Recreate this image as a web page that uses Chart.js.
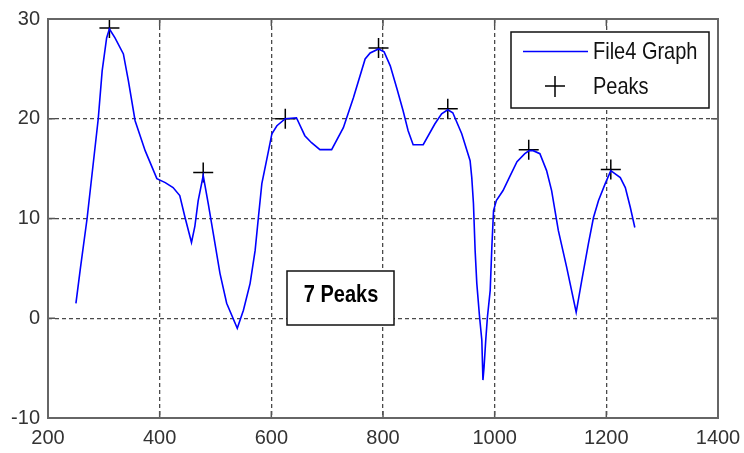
<!DOCTYPE html>
<html>
<head>
<meta charset="utf-8">
<script src="https://cdn.jsdelivr.net/npm/chart.js@4/dist/chart.umd.min.js"></script>
<style>
  html, body { margin: 0; padding: 0; background: #fff; }
  #wrap { width: 744px; height: 453px; }
</style>
</head>
<body>
<div id="wrap"><canvas id="peaksChart"></canvas></div>
<script>
// signal samples
const xValues = [250, 258, 270, 290, 297, 305, 310, 320, 335, 344, 356, 374, 395, 410, 424, 436, 445, 457,
  463, 469, 478, 487, 496, 508, 520, 539, 550, 562, 571, 577, 583, 595, 601, 610, 625, 645, 660, 672, 687,
  708, 729, 747, 768, 777, 792, 802, 813, 825, 836, 845, 854, 872, 893, 905, 916, 925, 941, 956, 959, 962,
  965, 968, 973, 977, 979, 981, 984, 987, 992, 995, 998, 1003, 1015, 1027, 1040, 1054, 1062, 1069, 1081,
  1093, 1102, 1114, 1129, 1146, 1156, 1168, 1177, 1186, 1198, 1208, 1225, 1234, 1243, 1251];
const yValues = [1.5, 5, 10, 20, 24.8, 28.1, 29.0, 28.1, 26.5, 23.8, 19.8, 16.8, 14.0, 13.6, 13.1, 12.3, 10.2, 7.6,
  9.2, 11.8, 14.3, 11.5, 8.5, 4.5, 1.5, -1.0, 0.8, 3.5, 6.8, 10.2, 13.5, 16.8, 18.5, 19.3, 20.0, 20.1, 18.3, 17.6, 16.9,
  16.9, 19.1, 22.1, 26.0, 26.6, 27.0, 26.7, 25.3, 23.0, 20.8, 18.8, 17.4, 17.4, 19.5, 20.5, 20.9, 20.6, 18.5, 15.8, 14.1, 11.5,
  6.8, 3.5, 0.1, -2.2, -6.2, -4.9, -2.2, 0.1, 2.8, 7.2, 10.8, 11.8, 12.8, 14.2, 15.7, 16.5, 16.8, 16.8, 16.5,
  14.8, 12.8, 8.8, 5.1, 0.6, 3.8, 7.5, 10.1, 11.8, 13.5, 14.8, 14.1, 13.1, 11.1, 9.1];

// detected peaks
const peakX = [310, 478, 625, 792, 916, 1061, 1208];
const peakY = [29.1, 14.6, 20.0, 27.1, 21.0, 16.9, 14.9];

const xTicks = [200, 400, 600, 800, 1000, 1200, 1400];
const yTicks = [-10, 0, 10, 20, 30];
const seriesNames = ['File4 Graph', 'Peaks'];

const fontFamily = '"Liberation Sans", Arial, sans-serif';
const tickFont = { family: fontFamily, size: 20 };

// draw text a little taller than wide, like the original
function tallText(ctx, text, x, y, font, align) {
  ctx.save();
  ctx.font = font;
  ctx.textAlign = align;
  ctx.textBaseline = 'middle';
  ctx.translate(x, y);
  ctx.scale(1, 1.2);
  ctx.fillText(text, 0, 0);
  ctx.restore();
}

// frame, inner tick marks, legend box and the peak count label
const decorations = {
  id: 'decorations',
  afterDraw(chart) {
    const ctx = chart.ctx;
    const a = chart.chartArea;
    const xs = chart.scales.x, ys = chart.scales.y;
    ctx.save();
    // inner ticks
    ctx.strokeStyle = '#555';
    ctx.lineWidth = 1.5;
    ctx.setLineDash([]);
    ctx.beginPath();
    xTicks.forEach(v => {
      const px = xs.getPixelForValue(v);
      ctx.moveTo(px, a.bottom); ctx.lineTo(px, a.bottom - 7);
      ctx.moveTo(px, a.top); ctx.lineTo(px, a.top + 7);
    });
    yTicks.forEach(v => {
      const py = ys.getPixelForValue(v);
      ctx.moveTo(a.left, py); ctx.lineTo(a.left + 7, py);
      ctx.moveTo(a.right, py); ctx.lineTo(a.right - 7, py);
    });
    ctx.stroke();
    // frame
    ctx.strokeStyle = '#666';
    ctx.lineWidth = 2;
    ctx.strokeRect(a.left, a.top, a.right - a.left, a.bottom - a.top);

    // legend
    const lx = 511, ly = 32, lw = 198, lh = 76;
    ctx.fillStyle = '#fff';
    ctx.fillRect(lx, ly, lw, lh);
    ctx.strokeStyle = '#111';
    ctx.lineWidth = 1.5;
    ctx.strokeRect(lx, ly, lw, lh);
    ctx.strokeStyle = '#0000ff';
    ctx.lineWidth = 1.5;
    ctx.beginPath();
    ctx.moveTo(523, 51.5); ctx.lineTo(588, 51.5);
    ctx.stroke();
    ctx.strokeStyle = '#000';
    ctx.beginPath();
    ctx.moveTo(545, 86); ctx.lineTo(565, 86);
    ctx.moveTo(555, 76); ctx.lineTo(555, 97);
    ctx.stroke();
    ctx.fillStyle = '#111';
    tallText(ctx, seriesNames[0], 593, 52, '20px ' + fontFamily, 'left');
    tallText(ctx, seriesNames[1], 593, 87, '20px ' + fontFamily, 'left');

    // annotation
    ctx.fillStyle = '#fff';
    ctx.fillRect(287, 271, 107, 54);
    ctx.strokeStyle = '#111';
    ctx.lineWidth = 1.5;
    ctx.strokeRect(287, 271, 107, 54);
    ctx.fillStyle = '#000';
    tallText(ctx, peakX.length + ' Peaks', 341, 295, 'bold 20px ' + fontFamily, 'center');
    ctx.restore();
  }
};

function edgeHidden(edges) {
  return c => edges.includes(c.tick && c.tick.value) ? 'rgba(0,0,0,0)' : '#4a4a4a';
}

const ctx = document.getElementById('peaksChart').getContext('2d');
const peaksChart = new Chart(ctx, {
  type: 'line',
  data: {
    datasets: [{
      label: seriesNames[0],
      data: xValues.map((x, i) => ({ x: x, y: yValues[i] })),
      borderColor: '#0000ff',
      borderWidth: 1.6,
      pointRadius: 0,
      tension: 0,
      fill: false
    }, {
      label: seriesNames[1],
      data: peakX.map((x, i) => ({ x: x, y: peakY[i] })),
      showLine: false,
      pointStyle: 'cross',
      pointRadius: 10,
      pointBorderColor: '#000',
      pointBorderWidth: 1.5,
      pointHoverRadius: 10
    }]
  },
  options: {
    responsive: true,
    maintainAspectRatio: false,
    animation: false,
    layout: { padding: { top: 19, right: 26, left: 0, bottom: 0 } },
    plugins: {
      legend: { display: false },
      tooltip: { enabled: false }
    },
    scales: {
      x: {
        type: 'linear',
        min: 200,
        max: 1400,
        afterBuildTicks: s => { s.ticks = xTicks.map(v => ({ value: v })); },
        afterFit: s => { s.height = 35; s.paddingLeft = 0; s.paddingRight = 0; },
        border: { display: false, dash: [4, 3] },
        grid: { color: edgeHidden([200, 1400]), borderDash: [4, 3], lineWidth: 1.3, drawTicks: false },
        ticks: { color: '#333', font: tickFont, padding: 8, maxRotation: 0, callback: v => String(v) }
      },
      y: {
        min: -10,
        max: 30,
        afterBuildTicks: s => { s.ticks = yTicks.map(v => ({ value: v })); },
        afterFit: s => { s.width = 48; s.paddingTop = 0; s.paddingBottom = 0; },
        border: { display: false, dash: [4, 3] },
        grid: { color: edgeHidden([-10, 30]), borderDash: [4, 3], lineWidth: 1.3, drawTicks: false },
        ticks: { color: '#333', font: tickFont, padding: 8, callback: v => String(v) }
      }
    }
  },
  plugins: [decorations]
});
</script>
</body>
</html>
